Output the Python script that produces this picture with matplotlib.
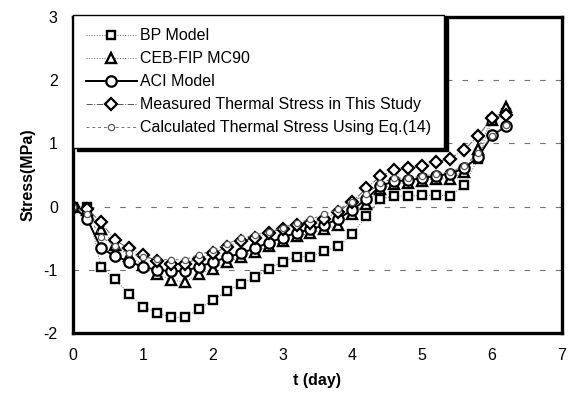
import numpy as np
import matplotlib
matplotlib.use("Agg")
import matplotlib.pyplot as plt

plt.rcParams['font.family'] = ['Liberation Sans', 'DejaVu Sans']
plt.rcParams['axes.unicode_minus'] = False

# time axis, one reading every 0.2 day
t_day = np.round(np.arange(32) * 0.2, 1)

# stress histories (MPa)
bp_model = [0, 0, -0.95, -1.15, -1.38, -1.58, -1.68, -1.75, -1.75, -1.62,
            -1.48, -1.34, -1.22, -1.12, -0.98, -0.87, -0.79, -0.79, -0.70, -0.63,
            -0.43, -0.15, 0.12, 0.17, 0.17, 0.18, 0.18, 0.17, 0.34, 0.75,
            1.37, 1.48]
ceb_fip = [0, -0.05, -0.35, -0.60, -0.78, -0.92, -1.06, -1.16, -1.19, -1.07,
           -0.98, -0.88, -0.80, -0.71, -0.63, -0.55, -0.47, -0.42, -0.36, -0.29,
           -0.11, 0.05, 0.28, 0.36, 0.38, 0.41, 0.44, 0.44, 0.55, 0.92,
           1.37, 1.57]
aci_model = [0, -0.19, -0.66, -0.78, -0.87, -0.95, -1.00, -1.02, -1.02, -0.95,
             -0.88, -0.80, -0.74, -0.66, -0.57, -0.49, -0.41, -0.36, -0.29, -0.19,
             -0.05, 0.12, 0.33, 0.40, 0.42, 0.45, 0.49, 0.52, 0.61, 0.78,
             1.13, 1.27]
measured = [0, -0.03, -0.25, -0.53, -0.66, -0.76, -0.86, -0.91, -0.90, -0.82,
            -0.74, -0.64, -0.54, -0.50, -0.41, -0.35, -0.29, -0.26, -0.19, -0.08,
            0.08, 0.29, 0.48, 0.58, 0.61, 0.64, 0.71, 0.76, 0.90, 1.12,
            1.40, 1.45]
calculated = [0, -0.12, -0.48, -0.62, -0.74, -0.80, -0.83, -0.84, -0.84, -0.76,
              -0.69, -0.59, -0.50, -0.45, -0.40, -0.33, -0.26, -0.20, -0.12, -0.04,
              0.08, 0.20, 0.38, 0.45, 0.46, 0.48, 0.52, 0.55, 0.64, 0.85,
              1.12, 1.30]

labels = ["BP Model", "CEB-FIP MC90", "ACI Model",
          "Measured Thermal Stress in This Study",
          "Calculated Thermal Stress Using Eq.(14)"]

fig = plt.figure(figsize=(5.71, 3.97), dpi=100)
ax = fig.add_axes([0.128, 0.161, 0.856, 0.796])

# dashed horizontal gridlines
for yv in [-1, 0, 1, 2]:
    ax.axhline(yv, color='0.45', lw=0.8, ls=(0, (5, 9)), zorder=0)

mk = dict(markerfacecolor='white', markeredgecolor='black')
ax.plot(t_day, bp_model, ls=':', color='0.4', lw=0.7, marker='s', ms=6,
        mew=1.7, label=labels[0], **mk)
ax.plot(t_day, ceb_fip, ls=':', color='0.4', lw=0.7, marker='^', ms=6.5,
        mew=1.7, label=labels[1], **mk)
ax.plot(t_day, aci_model, ls='-', color='black', lw=1.4, marker='o', ms=7.5,
        mew=1.6, label=labels[2], **mk)
ax.plot(t_day, measured, ls='-.', color='0.35', lw=0.7, marker='D', ms=6,
        mew=1.6, label=labels[3], **mk)
ax.plot(t_day, calculated, ls=(0, (3, 3)), color='0.45', lw=0.7, marker='o',
        ms=4.5, mew=0.9, markerfacecolor='white', markeredgecolor='0.35',
        label=labels[4])

ax.set_xlim(0, 7)
ax.set_ylim(-2, 3)
ax.set_xticks(range(0, 8))
ax.set_yticks(range(-2, 4))
ax.tick_params(labelsize=11.5, length=0)
ax.tick_params(axis='x', pad=11)
ax.tick_params(axis='y', pad=11)

for s in ax.spines.values():
    s.set_linewidth(2.4)
    s.set_color('black')

ax.set_xlabel("t (day)", fontsize=11.5, fontweight='bold', labelpad=7)
ax.set_ylabel("Stress(MPa)", fontsize=11.5, fontweight='bold', labelpad=6)

leg = ax.legend(loc='upper left', bbox_to_anchor=(0.0, 1.005), borderaxespad=0,
                fontsize=11.5, frameon=True, fancybox=False, edgecolor='black',
                handlelength=3.2, labelspacing=0.5, borderpad=0.8,
                handletextpad=0.2,
                shadow={'ox': 2.5, 'oy': -2.5, 'color': 'black', 'alpha': 1})
leg.get_frame().set_linewidth(1.0)
leg.get_frame().set_alpha(1)

fig.savefig("out.png", dpi=100)
